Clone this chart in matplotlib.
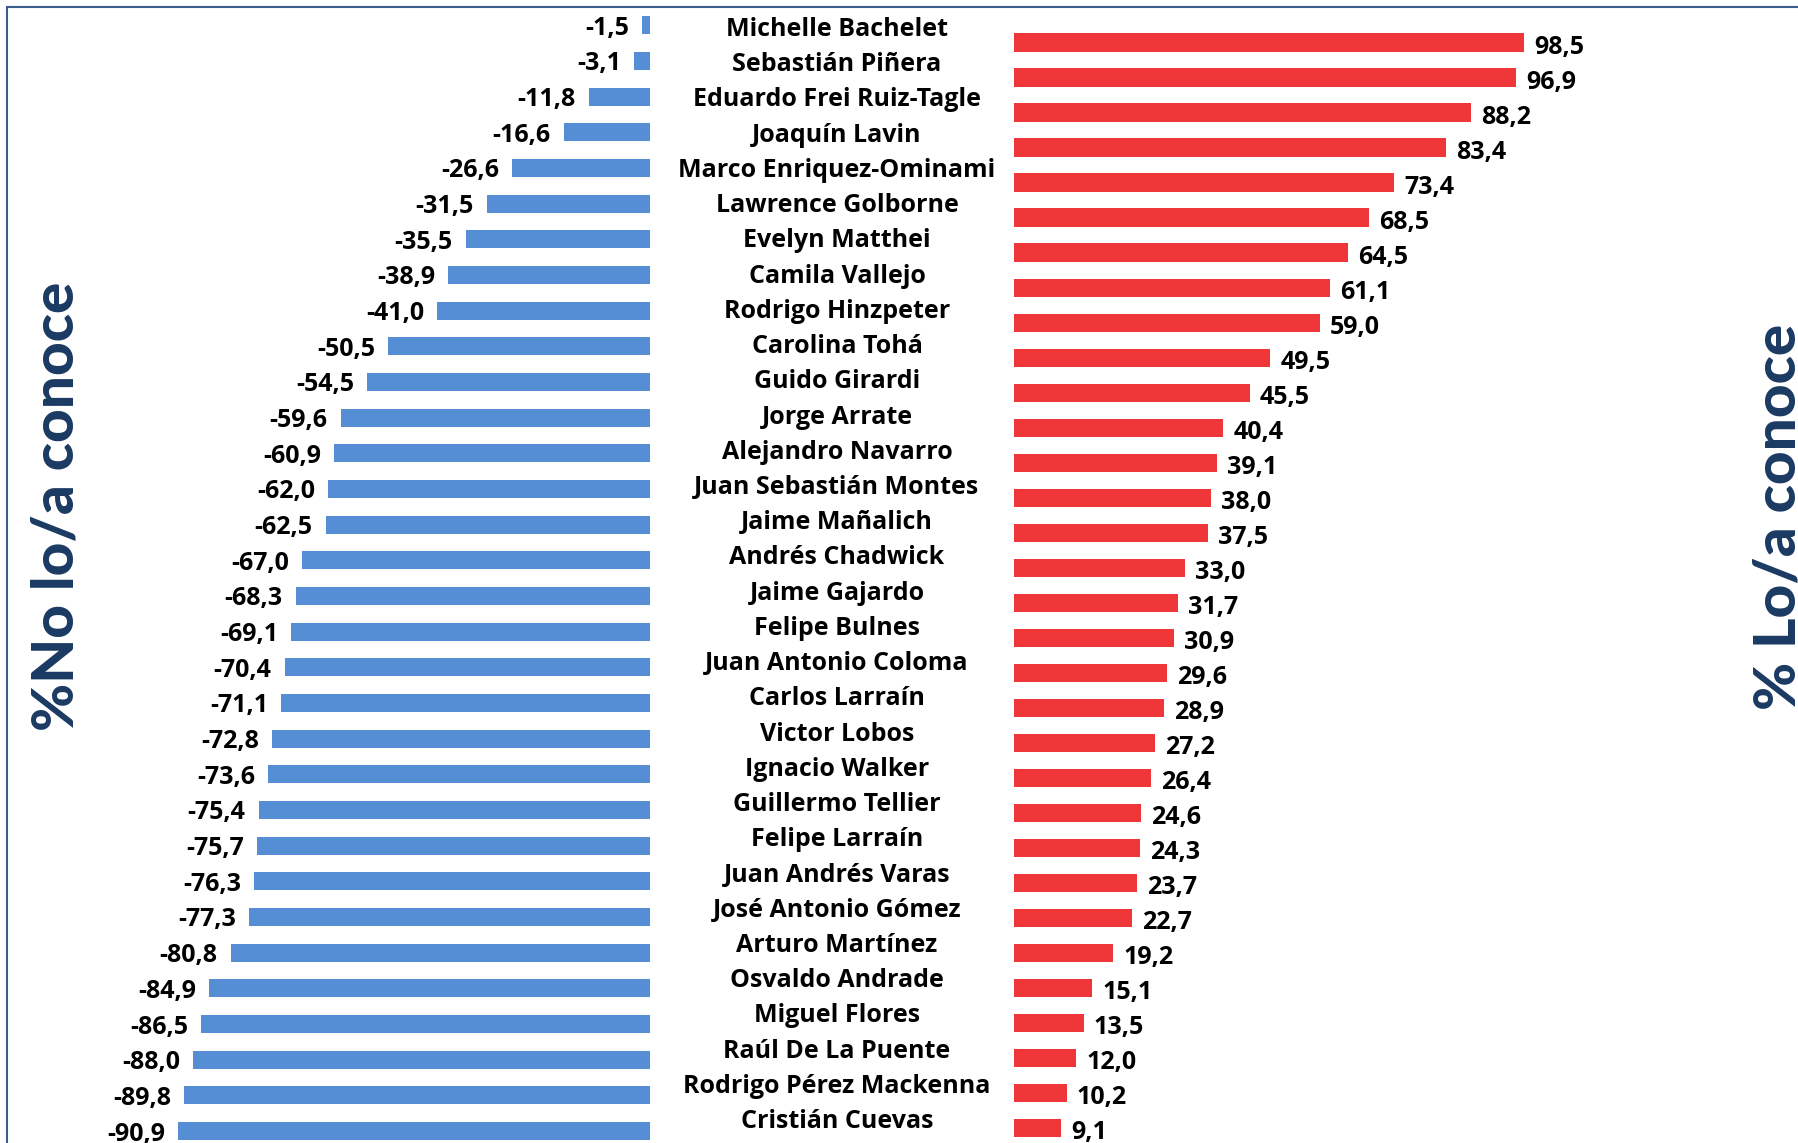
import numpy as np
import matplotlib.pyplot as plt
from matplotlib.patches import Rectangle

names = ["Michelle Bachelet", "Sebastián Piñera", "Eduardo Frei Ruiz-Tagle",
         "Joaquín Lavin", "Marco Enriquez-Ominami", "Lawrence Golborne",
         "Evelyn Matthei", "Camila Vallejo", "Rodrigo Hinzpeter",
         "Carolina Tohá", "Guido Girardi", "Jorge Arrate", "Alejandro Navarro",
         "Juan Sebastián Montes", "Jaime Mañalich", "Andrés Chadwick",
         "Jaime Gajardo", "Felipe Bulnes", "Juan Antonio Coloma",
         "Carlos Larraín", "Victor Lobos", "Ignacio Walker", "Guillermo Tellier",
         "Felipe Larraín", "Juan Andrés Varas", "José Antonio Gómez",
         "Arturo Martínez", "Osvaldo Andrade", "Miguel Flores",
         "Raúl De La Puente", "Rodrigo Pérez Mackenna", "Cristián Cuevas"]

no_conoce = [-1.5, -3.1, -11.8, -16.6, -26.6, -31.5, -35.5, -38.9, -41.0, -50.5,
             -54.5, -59.6, -60.9, -62.0, -62.5, -67.0, -68.3, -69.1, -70.4, -71.1,
             -72.8, -73.6, -75.4, -75.7, -76.3, -77.3, -80.8, -84.9, -86.5, -88.0,
             -89.8, -90.9]

conoce = [98.5, 96.9, 88.2, 83.4, 73.4, 68.5, 64.5, 61.1, 59.0, 49.5, 45.5, 40.4,
          39.1, 38.0, 37.5, 33.0, 31.7, 30.9, 29.6, 28.9, 27.2, 26.4, 24.6, 24.3,
          23.7, 22.7, 19.2, 15.1, 13.5, 12.0, 10.2, 9.1]

W, H = 1798, 1143
FONT = ['Open Sans', 'DejaVu Sans']
navy = '#1B3A63'

fig = plt.figure(figsize=(W / 100, H / 100), dpi=100)


def make_ax(x0, x1, first, step):
    ax = fig.add_axes([x0 / W, 0, (x1 - x0) / W, 1])
    ax.set_ylim((H - first) / step, -first / step)
    ax.axis('off')
    return ax


def fmt(v):
    return f"{v:.1f}".replace('.', ',')


pos = np.arange(len(names))

# left: no lo/a conoce
axl = make_ax(131, 650, 25.3, 35.67)
axl.set_xlim(-100, 0)
axl.barh(pos, no_conoce, height=0.51, color='#558ED5')
for i, v in enumerate(no_conoce):
    axl.annotate(fmt(v), (v, i), xytext=(-9.4, -6.8), textcoords='offset points',
                 ha='right', va='baseline', fontsize=18, fontweight='bold',
                 family=FONT)

# right: lo/a conoce
axr = make_ax(1014, 1532, 42.4, 35.03)
axr.set_xlim(0, 100)
axr.barh(pos, conoce, height=0.52, color='#EF3739')
for i, v in enumerate(conoce):
    axr.annotate(fmt(v), (v, i), xytext=(7.2, -8.0), textcoords='offset points',
                 ha='left', va='baseline', fontsize=18, fontweight='bold',
                 family=FONT)

# names in the middle
axm = make_ax(660, 1014, 27, 35.23)
axm.set_xlim(0, 1)
for i, n in enumerate(names):
    axm.annotate(n, (0.5, i), xytext=(0, -6.5), textcoords='offset points',
                 ha='center', va='baseline', fontsize=18, fontweight='bold',
                 family=FONT)

title_font = ['Lato', 'Open Sans']
fig.text(30 / W, 1 - 506 / H, '%No lo/a conoce', rotation=90, ha='left',
         va='center', fontsize=42, fontweight='black', color=navy,
         family=title_font)
fig.text(1752 / W, 1 - 517 / H, '% Lo/a conoce', rotation=90, ha='left',
         va='center', fontsize=42, fontweight='black', color=navy,
         family=title_font)

# frame of the pasted picture
fig.add_artist(Rectangle((7 / W, -0.05), 1.1, 1.05 - 7 / H,
                         transform=fig.transFigure, fill=False,
                         edgecolor='#3A5F8F', linewidth=1.5))

fig.savefig('out.png', dpi=100)
